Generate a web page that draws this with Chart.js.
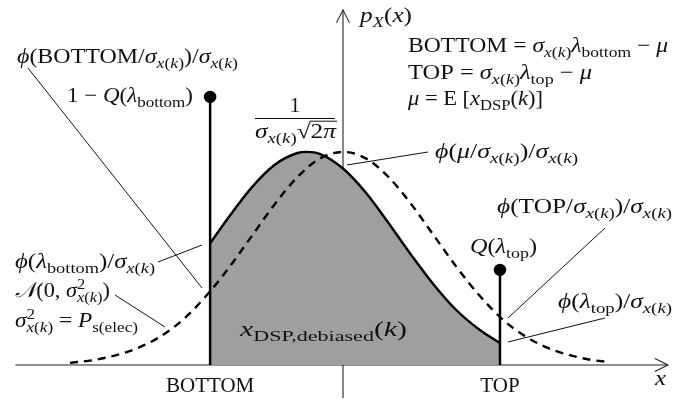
<!DOCTYPE html>
<html>
<head>
<meta charset="utf-8">
<script src="https://cdn.jsdelivr.net/npm/chart.js@4"></script>
<style>
  html, body { margin: 0; padding: 0; background: #fff; overflow: hidden; }
  #wrap { width: 699px; height: 399px; position: relative; }
</style>
</head>
<body>
<div id="wrap"><canvas id="chart"></canvas></div>
<script>
// x in units of sigma_x(k), y is the density
const dashX = [-3, -2.75, -2.5, -2.25, -2, -1.75, -1.5, -1.25, -1, -0.75, -0.5, -0.25, 0,
               0.25, 0.5, 0.75, 1, 1.25, 1.5, 1.75, 2, 2.25, 2.5, 2.75, 2.9]
const dashY = [0.004, 0.009, 0.018, 0.032, 0.054, 0.086, 0.130, 0.183, 0.242, 0.301, 0.352, 0.387, 0.399,
               0.387, 0.352, 0.301, 0.242, 0.183, 0.130, 0.086, 0.054, 0.032, 0.018, 0.009, 0.006]

const solidX = [-1.46, -1.25, -1, -0.75, -0.5, -0.4, -0.25, 0, 0.25, 0.5, 0.75, 1, 1.25, 1.5, 1.725]
const solidY = [0.228, 0.278, 0.333, 0.375, 0.397, 0.399, 0.395, 0.368, 0.323, 0.266, 0.206, 0.150, 0.102, 0.066, 0.041]

const stemX = [-1.46, 1.725]
const stemY = [0.502, 0.178]
const stemLabels = ['BOTTOM', 'TOP']

const FAMILY = '"Liberation Serif", "DejaVu Serif", serif'
const SIZE = 21

// tiny math text helpers
const r = t => ({ t })
const i = t => ({ t, it: true })
const sr = t => ({ t, lvl: 1 })
const si = t => ({ t, it: true, lvl: 1 })
const su = t => ({ t, lvl: 2 })
const back = { back: true }
const mark = m => ({ t: '', mark: m })
const sx = () => [i('σ'), si('x'), sr('('), si('k'), sr(')')]
const lam = s => [i('λ'), sr(s)]
const phi = i('ϕ')

// x0..x1 is the horizontal room each formula takes
const notes = [
    { segs: [phi, r('(BOTTOM/'), ...sx(), r(')/'), ...sx()], x0: 17, x1: 238, y: 63 },
    { segs: [r('1 − '), i('Q'), r('('), ...lam('bottom'), r(')')], x0: 67, x1: 193, y: 102 },
    { segs: [i('p'), si('X'), r('('), i('x'), r(')')], x0: 360, x1: 412, y: 22 },
    { segs: [r('BOTTOM = '), ...sx(), ...lam('bottom'), r(' − '), i('μ')], x0: 408, x1: 668, y: 52 },
    { segs: [r('TOP = '), ...sx(), ...lam('top'), r(' − '), i('μ')], x0: 408, x1: 592, y: 79 },
    { segs: [i('μ'), r(' = E ['), i('x'), sr('DSP'), r('('), i('k'), r(')]')], x0: 408, x1: 543, y: 105 },
    { segs: [phi, r('('), i('μ'), r('/'), ...sx(), r(')/'), ...sx()], x0: 435, x1: 578, y: 158 },
    { segs: [phi, r('(TOP/'), ...sx(), r(')/'), ...sx()], x0: 497, x1: 672, y: 213 },
    { segs: [i('Q'), r('('), ...lam('top'), r(')')], x0: 470, x1: 537, y: 253 },
    { segs: [phi, r('('), ...lam('top'), r(')/'), ...sx()], x0: 558, x1: 672, y: 308 },
    { segs: [phi, r('('), ...lam('bottom'), r(')/'), ...sx()], x0: 15, x1: 155, y: 268 },
    { segs: [i('𝒩'), r('(0, '), i('σ'), su('2'), back, si('x'), sr('('), si('k'), sr(')'), r(')')], x0: 15, x1: 110, y: 297 },
    { segs: [i('σ'), su('2'), back, si('x'), sr('('), si('k'), sr(')'), r(' = '), i('P'), sr('s(elec)')], x0: 15, x1: 138, y: 327 },
    { segs: [i('x'), sr('DSP,debiased'), r('('), i('k'), r(')')], x0: 240, x1: 407, y: 336 },
    { segs: [i('x')], x0: 655, x1: 666, y: 385 }
]

const leaders = [
    [28, 68, 202, 288],
    [347, 165, 428, 152],
    [605, 228, 508, 318],
    [605, 318, 508, 342],
    [158, 262, 202, 245],
    [115, 295, 165, 327]
]

function mathRun(c, segs, x, y, draw) {
    let cx = x, saved = x
    const marks = {}
    for (const s of segs) {
        if (s.back) { cx = saved; continue }
        if (s.mark) { marks[s.mark] = cx; continue }
        const sz = s.lvl ? SIZE * 0.74 : SIZE
        c.font = (s.it ? 'italic ' : '') + sz + 'px ' + FAMILY
        const dy = s.lvl === 1 ? SIZE * 0.22 : s.lvl === 2 ? -SIZE * 0.38 : 0
        if (s.lvl === 2) saved = cx
        if (draw) c.fillText(s.t, cx, y + dy)
        cx += c.measureText(s.t).width
    }
    return { width: cx - x, marks }
}

// draws a formula, stretched to fill [x0, x1] when given
function drawMath(c, segs, x0, y, x1, align) {
    const w = mathRun(c, segs, 0, 0, false).width
    let k = 1, left = x0
    if (x1 !== undefined) k = (x1 - x0) / w
    else if (align === 'center') left = x0 - w / 2
    c.save()
    c.translate(left, y)
    c.scale(k, 1)
    const res = mathRun(c, segs, 0, 0, true)
    c.restore()
    Object.keys(res.marks).forEach(m => { res.marks[m] = left + res.marks[m] * k })
    return res
}

const arrow = (c, x, y, dx, dy) => {
    // open chevron head pointing along (dx, dy)
    const len = 13, half = 6.5
    const nx = -dy, ny = dx
    c.beginPath()
    c.moveTo(x - dx * len + nx * half, y - dy * len + ny * half)
    c.lineTo(x, y)
    c.lineTo(x - dx * len - nx * half, y - dy * len - ny * half)
    c.stroke()
}

const axesPlugin = {
    id: 'axesPlugin',
    beforeDatasetsDraw(chart) {
        const c = chart.ctx
        const xs = chart.scales.x, ys = chart.scales.y
        const x0 = xs.getPixelForValue(0), y0 = ys.getPixelForValue(0)
        c.save()
        c.strokeStyle = '#222'
        c.lineWidth = 1.1
        c.beginPath()
        c.moveTo(xs.getPixelForValue(-3.6), y0)
        c.lineTo(xs.getPixelForValue(3.57), y0)
        c.moveTo(x0, ys.getPixelForValue(-0.062))
        c.lineTo(x0, ys.getPixelForValue(0.665))
        c.stroke()
        arrow(c, xs.getPixelForValue(3.57), y0, 1, 0)
        arrow(c, x0, ys.getPixelForValue(0.665), 0, -1)
        c.restore()
    },
    afterDatasetsDraw(chart) {
        const c = chart.ctx
        const xs = chart.scales.x, ys = chart.scales.y
        c.save()
        c.fillStyle = '#111'
        c.textBaseline = 'alphabetic'
        c.textAlign = 'left'

        c.strokeStyle = '#111'
        c.lineWidth = 1
        leaders.forEach(l => {
            c.beginPath()
            c.moveTo(l[0], l[1])
            c.lineTo(l[2], l[3])
            c.stroke()
        })

        notes.forEach(n => drawMath(c, n.segs, n.x0, n.y, n.x1))

        stemLabels.forEach((t, k) => {
            drawMath(c, [r(t)], xs.getPixelForValue(stemX[k]), ys.getPixelForValue(0) + 27, undefined, 'center')
        })

        // 1 / (sigma sqrt(2 pi)) over the peak
        drawMath(c, [r('1')], 295, 112, undefined, 'center')
        c.lineWidth = 1
        c.beginPath()
        c.moveTo(255, 118.5)
        c.lineTo(335, 118.5)
        c.stroke()
        const den = [...sx(), r('√'), mark('rad'), r('2'), i('π'), mark('end')]
        const res = drawMath(c, den, 255, 138, 336)
        c.beginPath()
        c.moveTo(res.marks.rad - 1, 138 - SIZE * 0.8)
        c.lineTo(res.marks.end + 1, 138 - SIZE * 0.8)
        c.stroke()
        c.restore()
    }
}

const pts = (xs, ys) => xs.map((x, k) => ({ x: x, y: ys[k] }))

const data = {
    datasets: [
        {
            // BOTTOM / TOP probability masses
            data: pts([stemX[0], stemX[0]], [0, stemY[0]]),
            borderColor: '#000',
            backgroundColor: '#000',
            borderWidth: 2.5,
            pointRadius: [0, 5],
            fill: false,
            order: 1
        },
        {
            data: pts([stemX[1], stemX[1]], [0, stemY[1]]),
            borderColor: '#000',
            backgroundColor: '#000',
            borderWidth: 2.5,
            pointRadius: [0, 5],
            fill: false,
            order: 1
        },
        {
            // N(0, sigma^2)
            data: pts(dashX, dashY),
            borderColor: '#000',
            borderWidth: 2.4,
            borderDash: [8, 6],
            pointRadius: 0,
            cubicInterpolationMode: 'monotone',
            fill: false,
            order: 2
        },
        {
            // debiased density, truncated at BOTTOM and TOP
            data: pts(solidX, solidY),
            borderColor: '#000',
            backgroundColor: '#9f9f9f',
            borderWidth: 2.4,
            pointRadius: 0,
            cubicInterpolationMode: 'monotone',
            fill: 'origin',
            order: 3
        }
    ]
}

new Chart(document.getElementById('chart'), {
    type: 'line',
    data: data,
    options: {
        responsive: true,
        maintainAspectRatio: false,
        animation: false,
        events: [],
        layout: { padding: 0, autoPadding: false },
        scales: {
            x: { type: 'linear', min: -3.769, max: 3.912, display: false },
            y: { type: 'linear', min: -0.0637, max: 0.6835, display: false }
        },
        plugins: {
            legend: { display: false },
            tooltip: { enabled: false }
        }
    },
    plugins: [axesPlugin]
})
</script>
</body>
</html>
